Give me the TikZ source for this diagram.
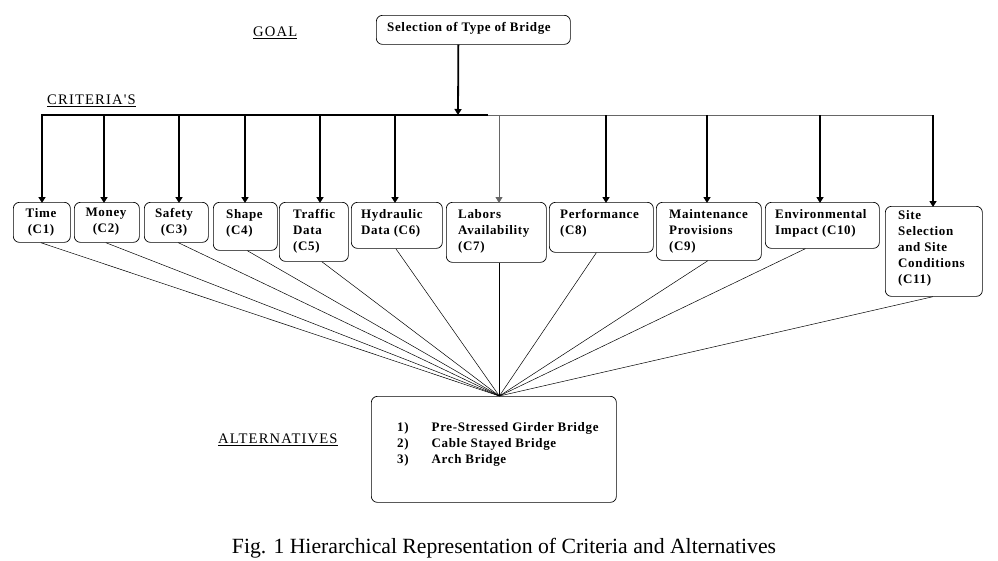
\documentclass[tikz,border=0pt]{standalone}
\usepackage{fontspec}
\setmainfont{Liberation Serif}
\newfontfamily\boxfont[LetterSpace=5]{Liberation Serif}
\newfontfamily\headfont[LetterSpace=8]{Liberation Serif}
\usetikzlibrary{arrows.meta,calc}
\begin{document}
\begin{tikzpicture}[x=1pt,y=-1pt,
 box/.style={draw, rounded corners=6pt, line width=0.7pt, inner sep=0pt, anchor=north west},
 txt/.style={font=\boxfont\bfseries\fontsize{13}{16}\selectfont, align=left, anchor=north west, inner sep=0pt},
 ctxt/.style={font=\boxfont\bfseries\fontsize{13}{16}\selectfont, align=center, anchor=north, inner sep=0pt},
 thickarrow/.style={line width=1.8pt, -{Triangle[length=6pt,width=7pt]}},
 thinarrow/.style={line width=0.8pt, black!60, -{Triangle[length=6pt,width=7pt]}},
 link/.style={line width=0.5pt},
 heading/.style={font=\headfont\fontsize{14.6}{16}\selectfont, anchor=west, inner sep=0pt}]
\useasboundingbox (0,0) rectangle (998,560);

% goal
\node[box, minimum width=194pt, minimum height=29pt] (goal) at (376,15) {};
\node[txt, anchor=west] (goaltxt) at (387,28) {Selection of Type of Bridge};
\node[heading] (goallbl) at (253,33) {\underline{GOAL}};
\node[heading] (critlbl) at (47,101) {\underline{CRITERIA'S}};
\node[heading] (altlbl) at (218,440) {\underline{ALTERNATIVES}};

% criteria boxes
\node[box, minimum width=57pt, minimum height=40pt] (c1) at (13,202) {};
\node[box, minimum width=65pt, minimum height=40pt] (c2) at (74,202) {};
\node[box, minimum width=64pt, minimum height=40pt] (c3) at (144,202) {};
\node[box, minimum width=64pt, minimum height=48pt] (c4) at (213,202) {};
\node[box, minimum width=69pt, minimum height=59pt] (c5) at (279,202) {};
\node[box, minimum width=91pt, minimum height=46pt] (c6) at (351,202) {};
\node[box, minimum width=100pt, minimum height=60pt] (c7) at (446,202) {};
\node[box, minimum width=104pt, minimum height=50pt] (c8) at (549,202) {};
\node[box, minimum width=105pt, minimum height=58pt] (c9) at (656,202) {};
\node[box, minimum width=114pt, minimum height=46pt] (c10) at (765,202) {};
\node[box, minimum width=97pt, minimum height=90pt] (c11) at (885,206) {};

\node[ctxt] (t1) at (41,208) {Time\\(C1)};
\node[ctxt] (t2) at (106,208) {Money\\(C2)};
\node[ctxt] (t3) at (174,208) {Safety\\(C3)};
\node[txt] (t4) at (226,209) {Shape\\(C4)};
\node[txt] (t5) at (293,209) {Traffic\\Data\\(C5)};
\node[txt] (t6) at (361,209) {Hydraulic\\Data (C6)};
\node[txt] (t7) at (458,209) {Labors\\Availability\\(C7)};
\node[txt] (t8) at (560,209) {Performance\\(C8)};
\node[txt] (t9) at (669,209) {Maintenance\\Provisions\\(C9)};
\node[txt] (t10) at (775,209) {Environmental\\Impact (C10)};
\node[txt] (t11) at (898,210) {Site\\Selection\\and Site\\Conditions\\(C11)};

% alternatives
\node[box, minimum width=245pt, minimum height=106pt] (alt) at (371,396) {};
\node[txt] (alttxt) at (397,422) {1)\hspace{23pt}Pre-Stressed Girder Bridge\\2)\hspace{23pt}Cable Stayed Bridge\\3)\hspace{23pt}Arch Bridge};

% caption
\node[font=\fontsize{21.7}{24}\selectfont, inner sep=0pt] (cap) at (504,548) {Fig. 1 Hierarchical Representation of Criteria and Alternatives};

% goal arrow and bar
\coordinate (gdrop) at (458,115);
\draw[thickarrow] ([xshift=-15pt]goal.south) -- (gdrop);
\coordinate (b1) at (42,115);
\coordinate (b2) at (104,115);
\coordinate (b3) at (179,115);
\coordinate (b4) at (245,115);
\coordinate (b5) at (320,115);
\coordinate (b6) at (395,115);
\coordinate (bmid) at (488,115);
\coordinate (b7) at (499,115);
\coordinate (b8) at (606,115);
\coordinate (b9) at (707,115);
\coordinate (b10) at (820,115);
\coordinate (b11) at (933,115);
\draw[line width=1.5pt] ([xshift=-0.8pt]b1) -- (bmid);
\draw[line width=0.8pt, black!60] (bmid) -- (b11);

\foreach \i in {1,...,6,8,9,10,11}{
  \draw[thickarrow] (b\i) -- ([yshift=-1pt]b\i |- c\i.north);
}
\draw[thinarrow] (b7) -- ([yshift=-1pt]b7 |- c7.north);

% converging links
\coordinate (hub) at ([xshift=5.5pt]alt.north);
\draw[link] ([xshift=-1pt]c1.south) -- (hub);
\draw[link] ([xshift=-1pt]c2.south) -- (hub);
\draw[link] ([xshift=2pt]c3.south) -- (hub);
\draw[link] ([xshift=2pt]c4.south) -- (hub);
\draw[link] ([xshift=8pt]c5.south) -- (hub);
\draw[link] ([xshift=-1pt]c6.south) -- (hub);
\draw[link] ([xshift=3pt]c7.south) -- (hub);
\draw[link] ([xshift=-5pt]c8.south) -- (hub);
\draw[link] ([xshift=-1pt]c9.south) -- (hub);
\draw[link] ([xshift=-17pt]c10.south) -- (hub);
\draw[link] ([xshift=-1pt]c11.south) -- (hub);
\end{tikzpicture}
\end{document}
